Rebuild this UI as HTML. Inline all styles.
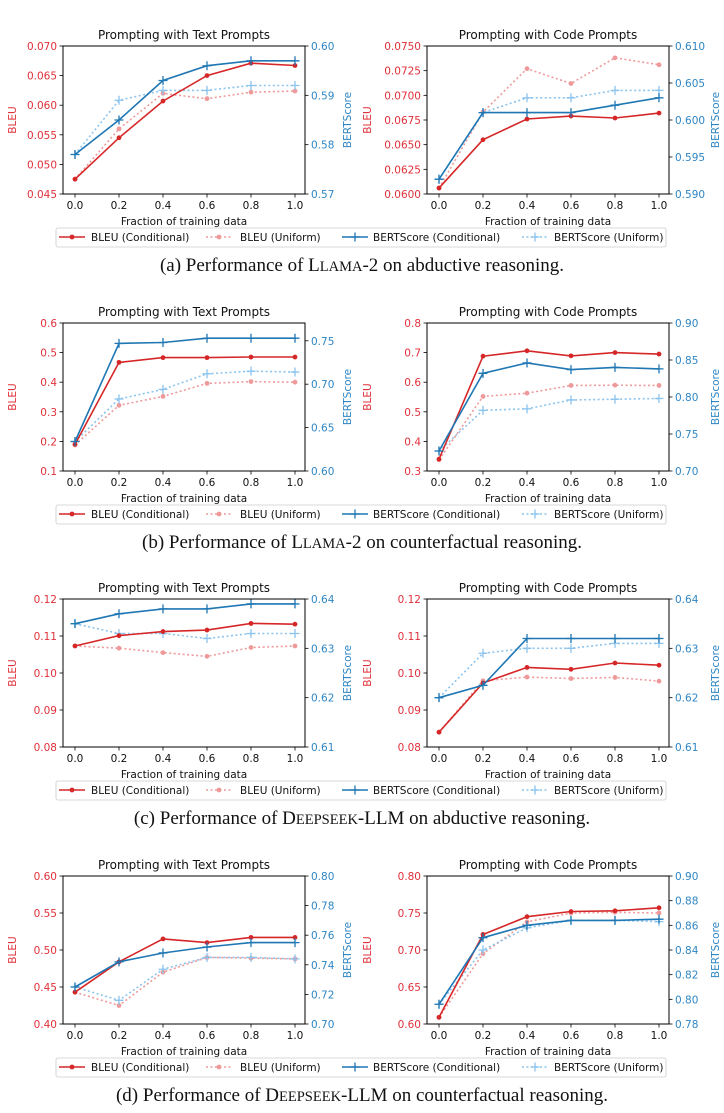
<!DOCTYPE html>
<html><head><meta charset="utf-8">
<style>
html,body{margin:0;padding:0;background:#fff;}
svg{display:block;}
.tk{font-family:"DejaVu Sans","Liberation Sans",sans-serif;font-size:10.5px;}
.ttl{font-family:"DejaVu Sans","Liberation Sans",sans-serif;font-size:12px;}
.cap{font-family:"Liberation Serif",serif;font-size:19px;fill:#111;}
</style></head>
<body>
<svg id="fig" width="724" height="1113" viewBox="0 0 724 1113" xmlns="http://www.w3.org/2000/svg"></svg>
<script>
const xCats=[0,0.2,0.4,0.6,0.8,1.0];
const xTickLabels=["0.0","0.2","0.4","0.6","0.8","1.0"];
// (a) LLaMA-2 abductive
const aTextBleuCond=[0.0475,0.0545,0.0607,0.0650,0.0671,0.0667];
const aTextBleuUni=[0.0475,0.0560,0.0620,0.0611,0.0622,0.0624];
const aTextBertCond=[0.578,0.585,0.593,0.596,0.597,0.597];
const aTextBertUni=[0.578,0.589,0.591,0.591,0.592,0.592];
const aCodeBleuCond=[0.0606,0.0655,0.0676,0.0679,0.0677,0.0682];
const aCodeBleuUni=[0.0606,0.0683,0.0727,0.0712,0.0738,0.0731];
const aCodeBertCond=[0.592,0.601,0.601,0.601,0.602,0.603];
const aCodeBertUni=[0.592,0.601,0.603,0.603,0.604,0.604];
// (b) LLaMA-2 counterfactual
const bTextBleuCond=[0.190,0.467,0.483,0.483,0.485,0.485];
const bTextBleuUni=[0.188,0.322,0.352,0.396,0.402,0.400];
const bTextBertCond=[0.634,0.747,0.748,0.753,0.753,0.753];
const bTextBertUni=[0.634,0.683,0.694,0.712,0.715,0.714];
const bCodeBleuCond=[0.340,0.688,0.706,0.689,0.700,0.695];
const bCodeBleuUni=[0.338,0.552,0.563,0.589,0.590,0.589];
const bCodeBertCond=[0.727,0.832,0.846,0.837,0.840,0.838];
const bCodeBertUni=[0.727,0.782,0.784,0.796,0.797,0.798];
// (c) DeepSeek abductive
const cTextBleuCond=[0.1073,0.1101,0.1112,0.1116,0.1134,0.1132];
const cTextBleuUni=[0.1073,0.1067,0.1055,0.1045,0.1069,0.1073];
const cTextBertCond=[0.635,0.637,0.638,0.638,0.639,0.639];
const cTextBertUni=[0.635,0.633,0.633,0.632,0.633,0.633];
const cCodeBleuCond=[0.0840,0.0973,0.1015,0.1010,0.1027,0.1021];
const cCodeBleuUni=[0.0840,0.0979,0.0989,0.0985,0.0988,0.0978];
const cCodeBertCond=[0.620,0.6225,0.632,0.632,0.632,0.632];
const cCodeBertUni=[0.620,0.629,0.630,0.630,0.631,0.631];
// (d) DeepSeek counterfactual
const dTextBleuCond=[0.443,0.484,0.515,0.510,0.517,0.517];
const dTextBleuUni=[0.443,0.425,0.470,0.490,0.489,0.488];
const dTextBertCond=[0.725,0.742,0.748,0.752,0.755,0.755];
const dTextBertUni=[0.725,0.716,0.737,0.745,0.745,0.744];
const dCodeBleuCond=[0.609,0.721,0.745,0.752,0.753,0.757];
const dCodeBleuUni=[0.609,0.695,0.738,0.750,0.751,0.750];
const dCodeBertCond=[0.796,0.850,0.860,0.864,0.864,0.865];
const dCodeBertUni=[0.796,0.840,0.858,0.864,0.864,0.863];

const aTextBleuTicks=["0.045","0.050","0.055","0.060","0.065","0.070"];
const aTextBertTicks=["0.57","0.58","0.59","0.60"];
const aCodeBleuTicks=["0.0600","0.0625","0.0650","0.0675","0.0700","0.0725","0.0750"];
const aCodeBertTicks=["0.590","0.595","0.600","0.605","0.610"];
const bTextBleuTicks=["0.1","0.2","0.3","0.4","0.5","0.6"];
const bTextBertTicks=["0.60","0.65","0.70","0.75"];
const bCodeBleuTicks=["0.3","0.4","0.5","0.6","0.7","0.8"];
const bCodeBertTicks=["0.70","0.75","0.80","0.85","0.90"];
const cBleuTicks=["0.08","0.09","0.10","0.11","0.12"];
const cBertTicks=["0.61","0.62","0.63","0.64"];
const dTextBleuTicks=["0.40","0.45","0.50","0.55","0.60"];
const dTextBertTicks=["0.70","0.72","0.74","0.76","0.78","0.80"];
const dCodeBleuTicks=["0.60","0.65","0.70","0.75","0.80"];
const dCodeBertTicks=["0.78","0.80","0.82","0.84","0.86","0.88","0.90"];

const captions=[
 ["(a) Performance of ","Llama","-2 on abductive reasoning."],
 ["(b) Performance of ","Llama","-2 on counterfactual reasoning."],
 ["(c) Performance of ","Deepseek","-LLM on abductive reasoning."],
 ["(d) Performance of ","Deepseek","-LLM on counterfactual reasoning."]
];

const RED="#d62728",RED_L="#ee9a9b",BLUE="#1f77b4",BLUE_L="#8cc4ee",RTXT="#e0303a",BTXT="#2f86c4";
const NS="http://www.w3.org/2000/svg";
const svg=document.getElementById('fig');
function el(tag,attrs,parent){const e=document.createElementNS(NS,tag);for(const k in attrs)e.setAttribute(k,attrs[k]);(parent||svg).appendChild(e);return e;}

const panels=[
 {row:0,col:0,title:"Prompting with Text Prompts",bl:[0.045,0.070],bt:aTextBleuTicks,br:[0.57,0.60],btk:aTextBertTicks,d:[aTextBleuCond,aTextBleuUni,aTextBertCond,aTextBertUni]},
 {row:0,col:1,title:"Prompting with Code Prompts",bl:[0.06,0.075],bt:aCodeBleuTicks,br:[0.59,0.61],btk:aCodeBertTicks,d:[aCodeBleuCond,aCodeBleuUni,aCodeBertCond,aCodeBertUni]},
 {row:1,col:0,title:"Prompting with Text Prompts",bl:[0.1,0.6],bt:bTextBleuTicks,br:[0.6,0.7705],btk:bTextBertTicks,d:[bTextBleuCond,bTextBleuUni,bTextBertCond,bTextBertUni]},
 {row:1,col:1,title:"Prompting with Code Prompts",bl:[0.3,0.8],bt:bCodeBleuTicks,br:[0.7,0.9],btk:bCodeBertTicks,d:[bCodeBleuCond,bCodeBleuUni,bCodeBertCond,bCodeBertUni]},
 {row:2,col:0,title:"Prompting with Text Prompts",bl:[0.08,0.12],bt:cBleuTicks,br:[0.61,0.64],btk:cBertTicks,d:[cTextBleuCond,cTextBleuUni,cTextBertCond,cTextBertUni]},
 {row:2,col:1,title:"Prompting with Code Prompts",bl:[0.08,0.12],bt:cBleuTicks,br:[0.61,0.64],btk:cBertTicks,d:[cCodeBleuCond,cCodeBleuUni,cCodeBertCond,cCodeBertUni]},
 {row:3,col:0,title:"Prompting with Text Prompts",bl:[0.4,0.6],bt:dTextBleuTicks,br:[0.7,0.8],btk:dTextBertTicks,d:[dTextBleuCond,dTextBleuUni,dTextBertCond,dTextBertUni]},
 {row:3,col:1,title:"Prompting with Code Prompts",bl:[0.6,0.8],bt:dCodeBleuTicks,br:[0.78,0.9],btk:dCodeBertTicks,d:[dCodeBleuCond,dCodeBleuUni,dCodeBertCond,dCodeBertUni]}
];
const rowTop=[46,323,599,876],rowH=148;
const colL=[63,427],colW=242;

panels.forEach((p,pi)=>{
  const L=colL[p.col],T=rowTop[p.row],R=L+colW,B=T+rowH;
  const g=el('g',{});
  
  
  const xs=v=>L+12+(v-0)/(1)*(colW-22);
  const yl=v=>B-(v-p.bl[0])/(p.bl[1]-p.bl[0])*rowH;
  const yr=v=>B-(v-p.br[0])/(p.br[1]-p.br[0])*rowH;
  const t=el('text',{x:(L+R)/2,y:T-7,'text-anchor':'middle',class:'ttl',fill:'#111'},g);t.textContent=p.title;
  
  xCats.forEach((c,i)=>{const x=xs(c);el('line',{x1:x,x2:x,y1:B,y2:B+3.5,stroke:'#000','stroke-width':0.8},g);
    const tx=el('text',{x:x,y:B+15,'text-anchor':'middle',class:'tk',fill:'#111'},g);tx.textContent=xTickLabels[i];});
  const xl=el('text',{x:(L+R)/2,y:B+31,'text-anchor':'middle',class:'tk',fill:'#111'},g);xl.textContent="Fraction of training data";
  
  p.bt.forEach(s=>{const y=yl(parseFloat(s));el('line',{x1:L-3.5,x2:L,y1:y,y2:y,stroke:'#000','stroke-width':0.8},g);
    const tx=el('text',{x:L-6,y:y+4,'text-anchor':'end',class:'tk',fill:RTXT},g);tx.textContent=s;});
  p.btk.forEach(s=>{const y=yr(parseFloat(s));el('line',{x1:R,x2:R+3.5,y1:y,y2:y,stroke:'#000','stroke-width':0.8},g);
    const tx=el('text',{x:R+6,y:y+4,'text-anchor':'start',class:'tk',fill:BTXT},g);tx.textContent=s;});
  const lx=p.col?L-56:L-47;
  const ly=el('text',{x:lx,y:(T+B)/2,'text-anchor':'middle',class:'tk',fill:RTXT,transform:`rotate(-90 ${lx} ${(T+B)/2})`},g);ly.textContent="BLEU";
  
  const rx=p.col?R+50:R+46;
  const ry=el('text',{x:rx,y:(T+B)/2,'text-anchor':'middle',class:'tk',fill:BTXT,transform:`rotate(-90 ${rx} ${(T+B)/2})`},g);ry.textContent="BERTScore";
  
  const specs=[
    {d:p.d[0],y:yl,c:RED,dash:null,m:'dot',name:'bleu-conditional-line'},
    {d:p.d[1],y:yl,c:RED_L,dash:'2,2.5',m:'dot',name:'bleu-uniform-line'},
    {d:p.d[2],y:yr,c:BLUE,dash:null,m:'plus',name:'bertscore-conditional-line'},
    {d:p.d[3],y:yr,c:BLUE_L,dash:'2,2.5',m:'plus',name:'bertscore-uniform-line'}];
  [1,3,0,2].forEach(k=>{const s=specs[k];
    const pts=s.d.map((v,i)=>xs(xCats[i]).toFixed(1)+','+s.y(v).toFixed(1)).join(' ');
    const pl=el('polyline',{points:pts,fill:'none',stroke:s.c,'stroke-width':1.6},g);
    if(s.dash)pl.setAttribute('stroke-dasharray',s.dash);
    
    s.d.forEach((v,i)=>{const x=xs(xCats[i]),y=s.y(v);
      if(s.m==='dot')el('circle',{cx:x,cy:y,r:2.4,fill:s.c},g);
      else el('path',{d:`M${x-4.5},${y}H${x+4.5}M${x},${y-4.5}V${y+4.5}`,stroke:s.c,'stroke-width':1.3},g);});
  });
  el('rect',{x:L,y:T,width:colW,height:rowH,fill:'none',stroke:'#000','stroke-width':1},g);
});

rowTop.forEach((T,r)=>{
  const B=T+rowH, ly=B+43;
  const g=el('g',{});
  
  el('rect',{x:56,y:ly-9,width:610,height:19,rx:2,fill:'#fff',stroke:'#ccc','stroke-width':0.8},g);
  const ents=[[59,91,RED,null,'dot',"BLEU (Conditional)"],[206,240,RED_L,'2,2.5','dot',"BLEU (Uniform)"],[342,373,BLUE,null,'plus',"BERTScore (Conditional)"],[522,554,BLUE_L,'2,2.5','plus',"BERTScore (Uniform)"]];
  ents.forEach(e=>{
    const l=el('line',{x1:e[0],x2:e[0]+26,y1:ly,y2:ly,stroke:e[2],'stroke-width':1.6},g);if(e[3])l.setAttribute('stroke-dasharray',e[3]);
    const cx=e[0]+13;
    if(e[4]==='dot')el('circle',{cx:cx,cy:ly,r:2.4,fill:e[2]},g);else el('path',{d:`M${cx-4.5},${ly}H${cx+4.5}M${cx},${ly-4.5}V${ly+4.5}`,stroke:e[2],'stroke-width':1.3},g);
    const t=el('text',{x:e[1],y:ly+4,class:'tk',fill:'#111'},g);t.textContent=e[5];
    
  });
  const c=captions[r];
  const ct=el('text',{x:362,y:B+77,'text-anchor':'middle',class:'cap'});
  
  const s1=el('tspan',{},ct);s1.textContent=c[0];
  const s2=el('tspan',{},ct);s2.textContent=c[1][0];
  const s3=el('tspan',{style:'font-size:14.5px'},ct);s3.textContent=c[1].slice(1).toUpperCase();
  const s4=el('tspan',{},ct);s4.textContent=c[2];
});
</script>
</body></html>
